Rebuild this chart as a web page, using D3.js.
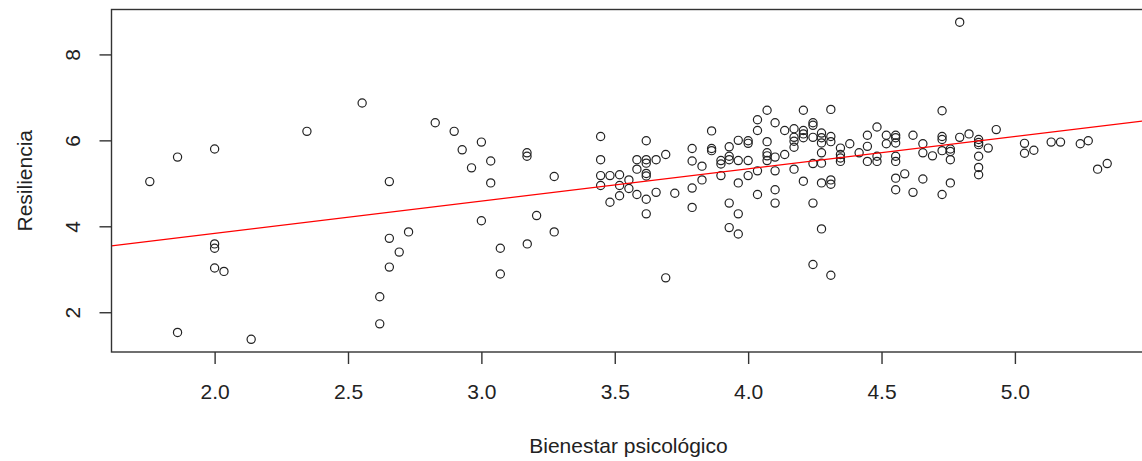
<!DOCTYPE html>
<html>
<head>
<meta charset="utf-8">
<script src="https://cdn.jsdelivr.net/npm/d3@7"></script>
<style>
  body { margin: 0; background: #fff; }
  text { font-family: "Liberation Sans", Arial, sans-serif; fill: #222; }
</style>
</head>
<body>
<div id="chart"></div>
<script>
// Bienestar psicológico (x) and Resiliencia (y), one entry per respondent
const bienestar = [
  1.757, 1.861, 2.000, 2.346, 2.553, 2.000, 2.000, 2.000, 2.035, 1.861,
  2.137, 2.655, 2.655, 2.727, 2.692, 2.655, 2.619, 2.619, 2.827, 2.898,
  3.000, 2.928, 3.035, 2.963, 3.035, 3.171, 3.171, 3.273, 3.000, 3.071,
  3.172, 3.207, 3.273, 3.071, 3.447, 3.447, 3.447, 3.447, 3.482, 3.482,
  3.518, 3.518, 3.518, 3.553, 3.553, 3.583, 3.583, 3.583, 3.618, 3.618,
  3.618, 3.618, 3.618, 3.618, 3.618, 3.655, 3.655, 3.691, 3.691, 3.725,
  3.790, 3.790, 3.790, 3.790, 3.827, 3.827, 3.863, 3.863, 3.863, 3.898,
  3.898, 3.898, 3.929, 3.929, 3.929, 3.929, 3.929, 3.963, 3.963, 3.963,
  3.963, 3.963, 4.000, 4.000, 4.000, 4.000, 4.035, 4.035, 4.071, 4.071,
  4.071, 4.071, 4.071, 4.101, 4.101, 4.137, 4.137, 4.172, 4.172, 4.172,
  4.172, 4.172, 4.207, 4.207, 4.207, 4.207, 4.207, 4.243, 4.243, 4.243,
  4.243, 4.243, 4.243, 4.275, 4.275, 4.275, 4.275, 4.275, 4.275, 4.275,
  4.310, 4.310, 4.310, 4.310, 4.310, 4.310, 4.346, 4.346, 4.346, 4.346,
  4.381, 4.416, 4.447, 4.447, 4.447, 4.483, 4.483, 4.483, 4.518, 4.518,
  4.553, 4.553, 4.553, 4.553, 4.553, 4.553, 4.553, 4.587, 4.618, 4.618,
  4.655, 4.655, 4.655, 4.691, 4.727, 4.727, 4.727, 4.727, 4.727, 4.758,
  4.758, 4.758, 4.758, 4.793, 4.793, 4.828, 4.864, 4.864, 4.864, 4.864,
  4.864, 4.864, 4.900, 4.930, 5.036, 5.036, 5.071, 5.136, 5.171, 5.245,
  5.275, 5.310, 5.346, 4.035, 4.101, 4.035, 4.101, 4.101
];
const resiliencia = [
  5.04, 5.61, 5.80, 6.21, 6.87, 3.59, 3.49, 3.03, 2.95, 1.53,
  1.37, 5.04, 3.72, 3.87, 3.40, 3.05, 2.36, 1.73, 6.41, 6.21,
  5.96, 5.78, 5.52, 5.36, 5.01, 5.71, 5.63, 5.16, 4.13, 3.49,
  3.59, 4.25, 3.87, 2.89, 6.09, 5.55, 5.18, 4.95, 5.18, 4.56,
  5.20, 4.95, 4.71, 5.08, 4.88, 5.55, 5.33, 4.74, 5.99, 5.55,
  5.47, 5.23, 5.17, 4.63, 4.29, 5.55, 4.79, 5.67, 2.80, 4.77,
  5.81, 5.52, 4.89, 4.44, 5.40, 5.08, 6.22, 5.81, 5.76, 5.53,
  5.45, 5.18, 5.85, 5.63, 5.55, 4.54, 3.97, 6.00, 5.53, 5.01,
  4.29, 3.82, 5.99, 5.93, 5.53, 5.18, 6.48, 6.23, 6.70, 5.97,
  5.71, 5.64, 5.53, 6.41, 5.61, 6.23, 5.67, 6.27, 6.07, 5.98,
  5.84, 5.33, 6.70, 6.23, 6.15, 6.06, 5.05, 6.41, 6.35, 6.07,
  5.46, 4.54, 3.11, 6.17, 6.06, 5.94, 5.71, 5.47, 5.01, 3.94,
  6.72, 6.09, 5.97, 5.08, 4.98, 2.86, 5.82, 5.67, 5.59, 5.51,
  5.92, 5.71, 6.12, 5.86, 5.51, 6.31, 5.63, 5.51, 6.12, 5.92,
  6.12, 6.06, 5.94, 5.63, 5.51, 5.12, 4.85, 5.22, 6.12, 4.79,
  5.92, 5.71, 5.10, 5.64, 6.69, 6.09, 6.02, 5.76, 4.74, 5.80,
  5.74, 5.55, 5.01, 8.75, 6.07, 6.15, 6.02, 5.95, 5.90, 5.63,
  5.37, 5.20, 5.82, 6.25, 5.93, 5.70, 5.77, 5.96, 5.96, 5.92,
  5.99, 5.33, 5.46, 5.29, 5.29, 4.74, 4.85, 4.54
];

// abline(lm(Resiliencia ~ Bienestar)) coefficients
const fitCoef = [2.333, 0.751]; // intercept, slope

const xTicks = [2.0, 2.5, 3.0, 3.5, 4.0, 4.5, 5.0];
const yTicks = [2, 4, 6, 8];

const xTitle = "Bienestar psicológico";
const yTitle = "Resiliencia";

const W = 1142, H = 461;
const plot = { left: 111.5, right: 1145.5, top: 9.5, bottom: 352 };
const fontSize = 21;
const tickLen = 12;

// base R style: data range padded by 4% on each side
function padded(values) {
  const [lo, hi] = d3.extent(values);
  const p = (hi - lo) * 0.04;
  return [lo - p, hi + p];
}

const x = d3.scaleLinear().domain(padded(bienestar)).range([plot.left, plot.right]);
const y = d3.scaleLinear().domain(padded(resiliencia)).range([plot.bottom, plot.top]);

const svg = d3.select("#chart").append("svg")
  .attr("width", W)
  .attr("height", H);

svg.append("rect")
  .attr("width", W)
  .attr("height", H)
  .attr("fill", "#fff");

svg.append("clipPath")
  .attr("id", "plot-clip")
  .append("rect")
  .attr("x", plot.left)
  .attr("y", plot.top)
  .attr("width", plot.right - plot.left)
  .attr("height", plot.bottom - plot.top);

// points (pch = 1)
svg.append("g")
  .selectAll("circle")
  .data(bienestar.map((b, i) => [b, resiliencia[i]]))
  .join("circle")
  .attr("cx", d => x(d[0]))
  .attr("cy", d => y(d[1]))
  .attr("r", 4.1)
  .attr("fill", "none")
  .attr("stroke", "#222")
  .attr("stroke-width", 1.2);

// regression line across the whole plot region
const xd = x.domain();
svg.append("line")
  .attr("clip-path", "url(#plot-clip)")
  .attr("x1", x(xd[0]))
  .attr("y1", y(fitCoef[0] + fitCoef[1] * xd[0]))
  .attr("x2", x(xd[1]))
  .attr("y2", y(fitCoef[0] + fitCoef[1] * xd[1]))
  .attr("stroke", "#ff0000")
  .attr("stroke-width", 1.3);

// box
svg.append("rect")
  .attr("x", plot.left)
  .attr("y", plot.top)
  .attr("width", plot.right - plot.left)
  .attr("height", plot.bottom - plot.top)
  .attr("fill", "none")
  .attr("stroke", "#333")
  .attr("stroke-width", 1.4);

// x axis
const xAxis = d3.axisBottom(x)
  .tickValues(xTicks)
  .tickFormat(d3.format(".1f"))
  .tickSizeInner(tickLen)
  .tickSizeOuter(0)
  .tickPadding(20);

const gx = svg.append("g")
  .attr("transform", `translate(0,${plot.bottom})`)
  .call(xAxis);
gx.select(".domain").remove();
gx.selectAll("line").attr("stroke", "#333").attr("stroke-width", 1.4);
gx.selectAll("text")
  .attr("font-size", fontSize)
  .attr("font-family", "Liberation Sans, Arial, sans-serif")
  .attr("fill", "#222");

// y axis: labels parallel to the axis
const yAxis = d3.axisLeft(y)
  .tickValues(yTicks)
  .tickFormat(d3.format("d"))
  .tickSizeInner(tickLen)
  .tickSizeOuter(0);

const gy = svg.append("g")
  .attr("transform", `translate(${plot.left},0)`)
  .call(yAxis);
gy.select(".domain").remove();
gy.selectAll("line").attr("stroke", "#333").attr("stroke-width", 1.4);
gy.selectAll("text")
  .attr("x", null)
  .attr("dy", null)
  .attr("text-anchor", "middle")
  .attr("transform", `translate(${80 - plot.left},0) rotate(-90)`)
  .attr("font-size", fontSize)
  .attr("font-family", "Liberation Sans, Arial, sans-serif")
  .attr("fill", "#222");

// axis titles
svg.append("text")
  .attr("x", (plot.left + plot.right) / 2)
  .attr("y", 452.5)
  .attr("text-anchor", "middle")
  .attr("font-size", fontSize)
  .text(xTitle);

svg.append("text")
  .attr("transform", `translate(31.5,${(plot.top + plot.bottom) / 2}) rotate(-90)`)
  .attr("text-anchor", "middle")
  .attr("font-size", fontSize)
  .text(yTitle);
</script>
</body>
</html>
